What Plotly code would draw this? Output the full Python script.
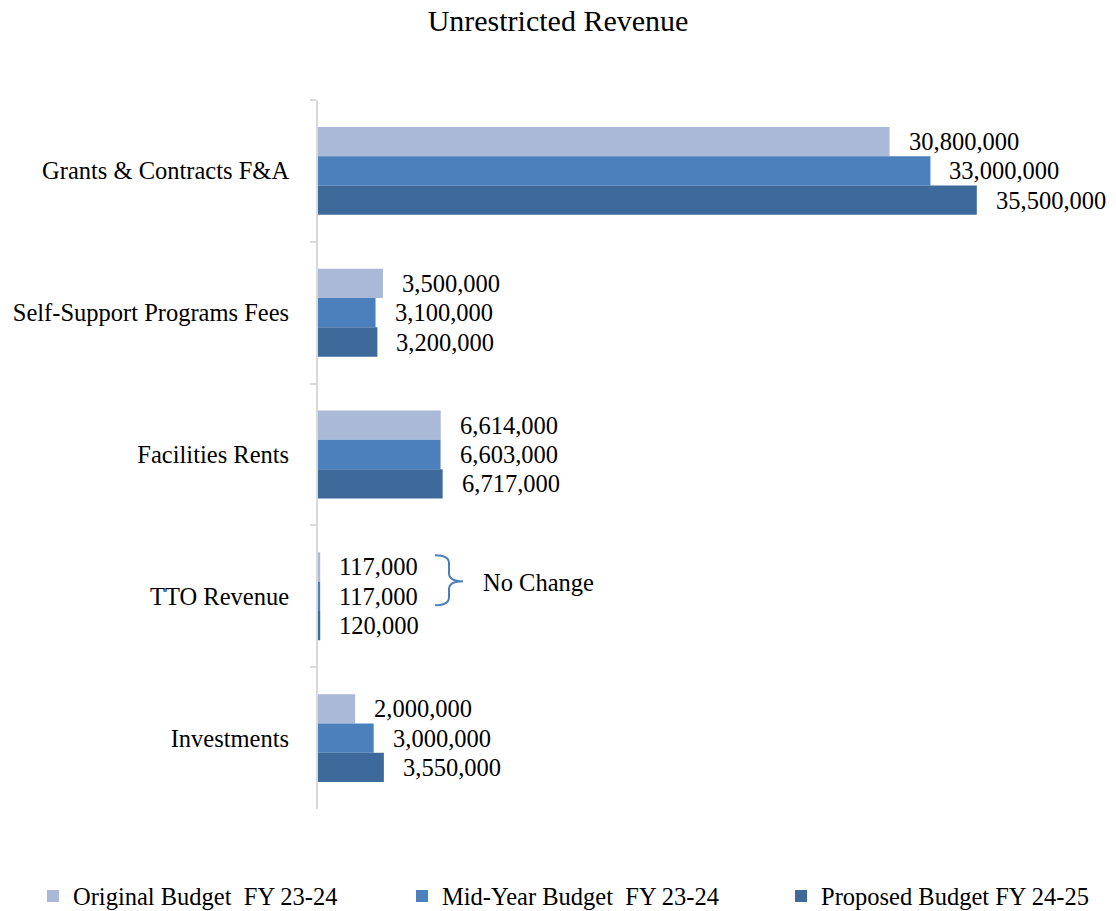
import plotly.graph_objects as go

categories = ["Grants & Contracts F&A", "Self-Support Programs Fees", "Facilities Rents", "TTO Revenue", "Investments"]
original_fy2324 = [30800000, 3500000, 6614000, 117000, 2000000]
midyear_fy2324 = [33000000, 3100000, 6603000, 117000, 3000000]
proposed_fy2425 = [35500000, 3200000, 6717000, 120000, 3550000]
series_names = ["Original Budget\u00a0\u00a0FY 23-24", "Mid-Year Budget\u00a0\u00a0FY 23-24", "Proposed Budget FY 24-25"]
series_colors = ["#AAB9D8", "#4C80BD", "#3E6A9B"]
note_text = "No Change"
note_category = "TTO Revenue"

FONT = "Liberation Serif, Times New Roman, serif"
FS = 24.5
W, H = 1116, 911
ML, MR, MT, MB = 318, 0, 100, 102
XMAX = 43.0e6
BARGAP = 0.38

series = [original_fy2324, midyear_fy2324, proposed_fy2425]
legend_ids = ["legend", "legend2", "legend3"]
legend_left_px = [33, 402, 781]

fig = go.Figure()
for name, vals, col, lg in zip(series_names, series, series_colors, legend_ids):
    fig.add_trace(go.Bar(
        y=categories, x=vals, orientation="h", name=name,
        marker=dict(color=col, line=dict(width=0)),
        legend=lg, hoverinfo="x+y",
    ))

plot_h = H - MT - MB
cat_px = plot_h / len(categories)
bar_px = (1 - BARGAP) * cat_px / 3

annotations = []
for i, vals in enumerate(series):
    for cat, v in zip(categories, vals):
        annotations.append(dict(
            x=v, y=cat, xref="x", yref="y", text=f"{v:,}",
            showarrow=False, xanchor="left", yanchor="middle",
            xshift=17, yshift=(1 - i) * bar_px,
            font=dict(family=FONT, size=FS, color="#000000"),
        ))

cat_idx = categories.index(note_category)
annotations.append(dict(
    x=0, y=cat_idx, xref="x", yref="y", text=note_text, showarrow=False,
    xanchor="left", yanchor="middle", xshift=163, yshift=14,
    font=dict(family=FONT, size=FS, color="#000000"),
))

brace = ("M 117,41 Q 131,41 131,33 L 131,23 Q 131,15 145,15 "
         "Q 131,15 131,7 L 131,-1 Q 131,-9 117,-9")
shapes = [dict(
    type="path", xref="x", yref="y", xsizemode="pixel", ysizemode="pixel",
    xanchor=0, yanchor=cat_idx, path=brace,
    line=dict(color="#4A7EC0", width=2),
)]

legend_common = dict(
    orientation="h", xref="container", yref="container", y=1 - 896 / H,
    yanchor="middle", xanchor="left", bgcolor="rgba(0,0,0,0)",
    font=dict(family=FONT, size=FS, color="#000000"), borderwidth=0,
)

fig.update_layout(
    width=W, height=H,
    margin=dict(l=ML, r=MR, t=MT, b=MB, autoexpand=False),
    paper_bgcolor="white", plot_bgcolor="white",
    barmode="group", bargap=BARGAP, bargroupgap=0,
    title=dict(text="Unrestricted Revenue", x=0.5, xref="container", xanchor="center",
               y=1 - 20 / H, yref="container", yanchor="middle",
               font=dict(family=FONT, size=30, color="#000000")),
    xaxis=dict(range=[0, XMAX], visible=False, fixedrange=True),
    yaxis=dict(
        autorange="reversed", showline=True, linecolor="#D9D9D9", linewidth=2,
        ticks="outside", tickson="boundaries", ticklen=6, tickcolor="#D9D9D9", tickwidth=2,
        ticklabelstandoff=22, showgrid=False, zeroline=False,
        tickfont=dict(family=FONT, size=FS, color="#000000"),
    ),
    showlegend=True,
    legend=dict(legend_common, x=legend_left_px[0] / W),
    legend2=dict(legend_common, x=legend_left_px[1] / W),
    legend3=dict(legend_common, x=legend_left_px[2] / W),
    annotations=annotations,
    shapes=shapes,
)

fig.write_html("out.html", config={"displayModeBar": False},
               post_script="document.body.style.margin='0';document.body.style.overflow='hidden';")
